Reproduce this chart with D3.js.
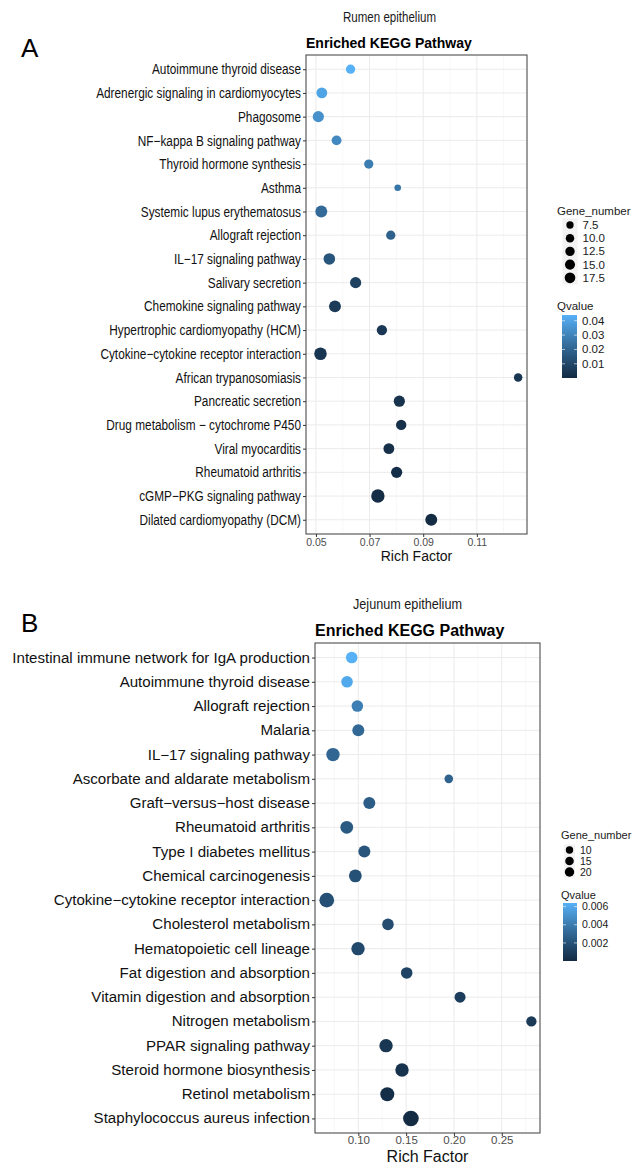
<!DOCTYPE html>
<html><head><meta charset="utf-8">
<script src="https://cdn.jsdelivr.net/npm/d3@7"></script>
<style>body{margin:0;background:#fff}svg{display:block;font-family:"Liberation Sans",Arial,sans-serif}</style>
</head><body><svg id="c" width="635" height="1164"></svg>
<script>
// ---------- Data: panel A (Rumen epithelium) ----------
const categoriesA = ["Autoimmune thyroid disease","Adrenergic signaling in cardiomyocytes","Phagosome","NF\u2212kappa B signaling pathway","Thyroid hormone synthesis","Asthma","Systemic lupus erythematosus","Allograft rejection","IL\u221217 signaling pathway","Salivary secretion","Chemokine signaling pathway","Hypertrophic cardiomyopathy (HCM)","Cytokine\u2212cytokine receptor interaction","African trypanosomiasis","Pancreatic secretion","Drug metabolism \u2212 cytochrome P450","Viral myocarditis","Rheumatoid arthritis","cGMP\u2212PKG signaling pathway","Dilated cardiomyopathy (DCM)"];
const richFactorA = [0.0629,0.0522,0.0509,0.0577,0.0697,0.0805,0.0520,0.0779,0.0550,0.0648,0.0571,0.0746,0.0517,0.1254,0.0811,0.0818,0.0772,0.0801,0.0731,0.0930];
const geneNumberA = [8,11,12,9,8,6,14,8,13,12,14,10,16,7,12,10,11,12,19,14];
const qvalueA = [0.044,0.040,0.034,0.032,0.028,0.026,0.022,0.019,0.015,0.008,0.006,0.005,0.004,0.004,0.003,0.002,0.002,0.0012,0.001,0.0001];
const xTicksA = [0.05,0.07,0.09,0.11];
const xMinorA = [0.06,0.08,0.10,0.12];
const sizeBreaksA = [7.5,10,12.5,15,17.5];
const sizeLabelsA = ["7.5","10.0","12.5","15.0","17.5"];
const qTicksA = [0.01,0.02,0.03,0.04];

// ---------- Data: panel B (Jejunum epithelium) ----------
const categoriesB = ["Intestinal immune network for IgA production","Autoimmune thyroid disease","Allograft rejection","Malaria","IL\u221217 signaling pathway","Ascorbate and aldarate metabolism","Graft\u2212versus\u2212host disease","Rheumatoid arthritis","Type I diabetes mellitus","Chemical carcinogenesis","Cytokine\u2212cytokine receptor interaction","Cholesterol metabolism","Hematopoietic cell lineage","Fat digestion and absorption","Vitamin digestion and absorption","Nitrogen metabolism","PPAR signaling pathway","Steroid hormone biosynthesis","Retinol metabolism","Staphylococcus aureus infection"];
const richFactorB = [0.0931,0.0882,0.0990,0.1000,0.0735,0.1946,0.1115,0.0879,0.1063,0.0969,0.0670,0.1310,0.0997,0.1506,0.2064,0.2810,0.1290,0.1457,0.1303,0.1550];
const geneNumberB = [10,10,10,11,15,7,11,13,11,13,20,10,15,10,9,8,15,15,17,24];
const qvalueB = [0.0064,0.0060,0.0042,0.0031,0.0030,0.0028,0.0026,0.0024,0.0022,0.0020,0.0019,0.0018,0.0016,0.0013,0.0010,0.0008,0.0006,0.0004,0.0002,0.00001];
const xTicksB = [0.10,0.15,0.20,0.25];
const xMinorB = [0.075,0.125,0.175,0.225,0.275];
const sizeBreaksB = [10,15,20];
const sizeLabelsB = ["10","15","20"];
const qTicksB = [0.002,0.004,0.006];

const svg = d3.select("#c");

function drawPanel(cfg){
  const g = svg.append("g");
  const P = cfg.panel;
  const x = d3.scaleLinear().domain(cfg.xDomain).range([P.left, P.right]);
  const y = d3.scalePoint().domain(cfg.cats).range([P.top, P.bottom]).padding(0.6);
  const gmin = d3.min(cfg.genes), gmax = d3.max(cfg.genes);
  const rLin = d3.scaleLinear().domain([0,1]).range(cfg.rRange);
  const r = v => rLin(Math.sqrt((v - gmin) / (gmax - gmin)));
  const qmin = d3.min(cfg.q), qmax = d3.max(cfg.q);
  const col = d3.scaleLinear().domain([qmin, qmax]).range(["#132B43","#56B1F7"]).interpolate(d3.interpolateLab);

  g.append("rect").attr("x",P.left).attr("y",P.top).attr("width",P.right-P.left).attr("height",P.bottom-P.top).attr("fill","#fff");
  g.selectAll(".minor").data(cfg.xMinor).join("line")
    .attr("x1",d=>x(d)).attr("x2",d=>x(d)).attr("y1",P.top).attr("y2",P.bottom)
    .attr("stroke","#f2f2f2").attr("stroke-width",0.6);
  g.selectAll(".major").data(cfg.xTicks).join("line")
    .attr("x1",d=>x(d)).attr("x2",d=>x(d)).attr("y1",P.top).attr("y2",P.bottom)
    .attr("stroke","#ebebeb").attr("stroke-width",1);
  g.selectAll(".hgrid").data(cfg.cats).join("line")
    .attr("x1",P.left).attr("x2",P.right).attr("y1",d=>y(d)).attr("y2",d=>y(d))
    .attr("stroke","#ebebeb").attr("stroke-width",1);

  g.selectAll("circle.pt").data(cfg.cats).join("circle")
    .attr("cx",(d,i)=>x(cfg.rich[i])).attr("cy",d=>y(d))
    .attr("r",(d,i)=>r(cfg.genes[i])).attr("fill",(d,i)=>col(cfg.q[i]));

  g.append("rect").attr("x",P.left).attr("y",P.top).attr("width",P.right-P.left).attr("height",P.bottom-P.top)
    .attr("fill","none").attr("stroke","#4d4d4d").attr("stroke-width",1.1);

  const yAxis = d3.axisLeft(y).tickSize(3).tickPadding(2);
  const ya = g.append("g").attr("transform",`translate(${P.left},0)`).call(yAxis);
  ya.select(".domain").remove();
  ya.selectAll(".tick line").attr("stroke","#333");
  const yt = ya.selectAll(".tick text").attr("fill","#111").attr("font-size",cfg.yFont).attr("font-family",'"Liberation Sans",Arial,sans-serif');
  let wmax = 0; yt.each(function(){ wmax = Math.max(wmax, this.getComputedTextLength()); });
  const k = cfg.yLabelWidth / wmax;
  yt.attr("transform",`translate(-5,0) scale(${k},1)`).attr("x",0);

  const xAxis = d3.axisBottom(x).tickValues(cfg.xTicks).tickFormat(d3.format(".2f")).tickSize(3).tickPadding(cfg.xPad);
  const xa = g.append("g").attr("transform",`translate(0,${P.bottom})`).call(xAxis);
  xa.select(".domain").remove();
  xa.selectAll(".tick line").attr("stroke","#333");
  xa.selectAll(".tick text").attr("fill","#4d4d4d").attr("font-size",cfg.xFont).attr("font-family",'"Liberation Sans",Arial,sans-serif');

  g.append("text").attr("x",(P.left+P.right)/2).attr("y",cfg.xTitleY).attr("text-anchor","middle")
    .attr("font-size",cfg.xTitleFont).attr("fill","#111").text("Rich Factor");

  g.append("text").attr("x",P.left).attr("y",cfg.titleY).attr("font-weight","bold")
    .attr("font-size",cfg.titleFont).attr("fill","#000").text("Enriched KEGG Pathway");
  g.append("text").attr("x",cfg.subX).attr("y",cfg.subY).attr("font-size",cfg.subFont)
    .attr("textLength",cfg.subW).attr("lengthAdjust","spacingAndGlyphs").attr("fill","#1a1a1a").text(cfg.sub);
  g.append("text").attr("x",cfg.letterX).attr("y",cfg.letterY).attr("font-size",26).attr("fill","#000").text(cfg.letter);

  const L = cfg.legend;
  g.append("text").attr("x",L.x).attr("y",L.titleY).attr("font-size",L.titleFont).attr("fill","#1a1a1a").text("Gene_number");
  cfg.sizeBreaks.forEach((b,i)=>{
    const cy = L.firstY + i*L.step;
    g.append("rect").attr("x",L.x+L.keyDx).attr("y",cy-L.step/2).attr("width",L.keyW).attr("height",L.step).attr("fill","#f2f2f2");
    g.append("circle").attr("cx",L.x+L.keyDx+L.keyW/2).attr("cy",cy).attr("r",r(b)*L.dotScale).attr("fill","#000");
    g.append("text").attr("x",L.x+L.keyDx+L.keyW+5).attr("y",cy).attr("dy","0.35em").attr("font-size",L.font).attr("fill","#1a1a1a").text(cfg.sizeLabels[i]);
  });
  const C = cfg.cbar;
  g.append("text").attr("x",L.x).attr("y",C.titleY).attr("font-size",L.titleFont).attr("fill","#1a1a1a").text("Qvalue");
  const gid = "grad"+cfg.letter;
  const grad = svg.append("defs").append("linearGradient").attr("id",gid).attr("x1",0).attr("y1",1).attr("x2",0).attr("y2",0);
  d3.range(0,1.0001,0.1).forEach(t=>grad.append("stop").attr("offset",t).attr("stop-color",col(qmin+t*(qmax-qmin))));
  g.append("rect").attr("x",C.x).attr("y",C.top).attr("width",C.w).attr("height",C.bottom-C.top).attr("fill",`url(#${gid})`);
  const qy = d3.scaleLinear().domain([qmin,qmax]).range([C.bottom,C.top]);
  cfg.qTicks.forEach(t=>{
    g.append("line").attr("x1",C.x).attr("x2",C.x+3).attr("y1",qy(t)).attr("y2",qy(t)).attr("stroke","#fff").attr("stroke-opacity",0.6);
    g.append("line").attr("x1",C.x+C.w-3).attr("x2",C.x+C.w).attr("y1",qy(t)).attr("y2",qy(t)).attr("stroke","#fff").attr("stroke-opacity",0.6);
    g.append("text").attr("x",C.x+C.w+5).attr("y",qy(t)).attr("dy","0.35em").attr("font-size",L.font).attr("fill","#1a1a1a").text(cfg.qFmt(t));
  });
}

drawPanel({
  letter:"A", letterX:21, letterY:57,
  sub:"Rumen epithelium", subX:343, subY:22, subFont:14, subW:93,
  titleY:48, titleFont:14,
  panel:{left:306,right:527,top:55,bottom:534},
  xDomain:[0.0463,0.1287],
  cats:categoriesA, rich:richFactorA, genes:geneNumberA, q:qvalueA,
  xTicks:xTicksA, xMinor:xMinorA,
  rRange:[3.3,6.7],
  yFont:14.5, yLabelWidth:205, xFont:10.5, xPad:2, xTitleY:561, xTitleFont:14,
  sizeBreaks:sizeBreaksA, sizeLabels:sizeLabelsA, qTicks:qTicksA, qFmt:d3.format(".2f"),
  legend:{x:557,titleY:215,firstY:225,step:13.2,keyDx:5.5,keyW:15,font:11.5,titleFont:11.5,dotScale:0.82},
  cbar:{titleY:310,x:562,w:15,top:315,bottom:378}
});

drawPanel({
  letter:"B", letterX:21, letterY:632,
  sub:"Jejunum epithelium", subX:353, subY:609, subFont:15, subW:109,
  titleY:636, titleFont:16,
  panel:{left:315,right:540,top:643,bottom:1133},
  xDomain:[0.0547,0.290],
  cats:categoriesB, rich:richFactorB, genes:geneNumberB, q:qvalueB,
  xTicks:xTicksB, xMinor:xMinorB,
  rRange:[4.3,7.8],
  yFont:14, yLabelWidth:298, xFont:11.5, xPad:0, xTitleY:1162, xTitleFont:16,
  sizeBreaks:sizeBreaksB, sizeLabels:sizeLabelsB, qTicks:qTicksB, qFmt:d3.format(".3f"),
  legend:{x:561,titleY:839,firstY:850,step:11,keyDx:3,keyW:11,font:10.5,titleFont:11,dotScale:0.64},
  cbar:{titleY:899,x:563,w:14,top:903,bottom:961}
});
</script></body></html>
